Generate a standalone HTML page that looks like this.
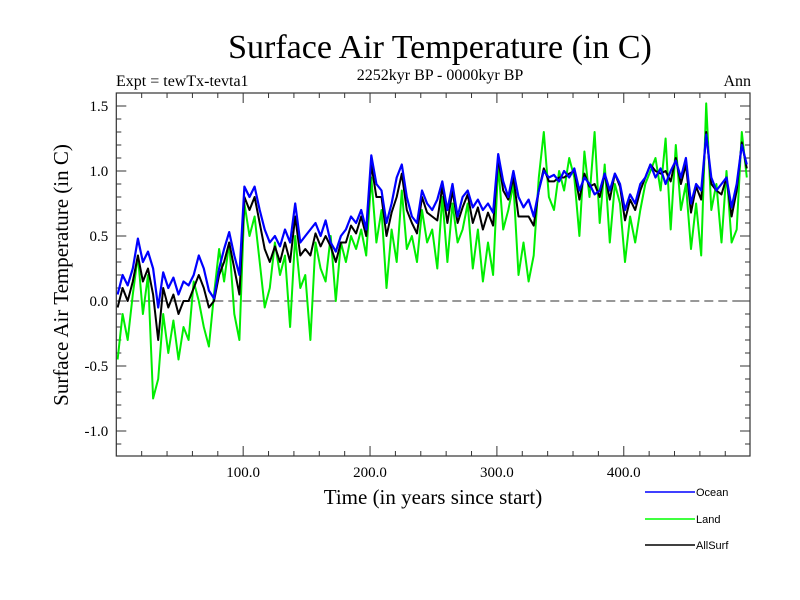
<!DOCTYPE html>
<html><head><meta charset="utf-8"><style>
body{margin:0;background:#fff}
svg{display:block}
.s{font-family:"Liberation Serif",serif}
.a{font-family:"Liberation Sans",sans-serif}
</style></head><body>
<svg id="chart" width="800" height="600" xmlns="http://www.w3.org/2000/svg">
<rect width="800" height="600" fill="#fff"/>
<text class="s" x="440" y="58" font-size="34" text-anchor="middle">Surface Air Temperature (in C)</text>
<text class="s" x="116" y="86" font-size="16">Expt = tewTx-tevta1</text>
<text class="s" x="440" y="80" font-size="16" text-anchor="middle">2252kyr BP - 0000kyr BP</text>
<text class="s" x="751" y="86" font-size="16" text-anchor="end">Ann</text>
<text class="s" x="0" y="0" font-size="21" text-anchor="middle" transform="translate(68,275) rotate(-90)">Surface Air Temperature (in C)</text>
<text class="s" x="433" y="504" font-size="21" text-anchor="middle">Time (in years since start)</text>
<g id="ticks"></g>
<g id="series"></g>
<rect x="116.3" y="93" width="633.7" height="363" fill="none" stroke="#333" stroke-width="1.2"/>
<g>
<line x1="645" y1="492" x2="695" y2="492" stroke="#0000ff" stroke-width="1.5"/>
<text class="a" x="696" y="496" font-size="11">Ocean</text>
<line x1="645" y1="519" x2="695" y2="519" stroke="#00ff00" stroke-width="1.5"/>
<text class="a" x="696" y="523" font-size="11">Land</text>
<line x1="645" y1="545" x2="695" y2="545" stroke="#000" stroke-width="1.5"/>
<text class="a" x="696" y="549" font-size="11">AllSurf</text>
</g>
</svg>
<script>
const yTicks=[1.5,1.0,0.5,0.0,-0.5,-1.0];
const yTickLabels=["1.5","1.0","0.5","0.0","-0.5","-1.0"];
const xTicks=[100,200,300,400];
const xTickLabels=["100.0","200.0","300.0","400.0"];
const ocean=[0.05,0.2,0.12,0.25,0.48,0.3,0.38,0.25,-0.05,0.22,0.1,0.18,0.05,0.15,0.12,0.2,0.35,0.25,0.08,0.02,0.25,0.4,0.53,0.35,0.2,0.88,0.8,0.88,0.7,0.55,0.45,0.5,0.42,0.55,0.45,0.75,0.45,0.5,0.55,0.6,0.5,0.62,0.45,0.38,0.5,0.55,0.65,0.6,0.7,0.55,1.12,0.9,0.85,0.6,0.75,0.95,1.05,0.8,0.65,0.6,0.85,0.75,0.7,0.78,0.92,0.7,0.9,0.65,0.8,0.85,0.72,0.78,0.7,0.75,0.68,1.13,0.92,0.8,1.0,0.8,0.72,0.78,0.65,0.85,1.0,0.95,0.97,0.92,1.0,0.95,1.02,0.85,0.95,0.9,0.82,0.85,0.98,0.85,0.98,0.9,0.7,0.82,0.75,0.9,0.95,1.05,0.95,1.02,0.9,1.0,1.08,0.95,1.1,0.75,0.9,0.85,1.28,0.95,0.85,0.9,0.95,0.72,0.9,1.2,1.05];
const land=[-0.45,-0.1,-0.3,0.05,0.35,-0.1,0.2,-0.75,-0.6,-0.1,-0.4,-0.15,-0.45,-0.2,-0.3,0.15,0.0,-0.2,-0.35,0.05,0.4,0.15,0.45,-0.1,-0.3,0.75,0.5,0.65,0.3,-0.05,0.1,0.45,0.2,0.35,-0.2,0.5,0.1,0.2,-0.3,0.45,0.25,0.15,0.5,0.0,0.45,0.3,0.5,0.4,0.55,0.35,0.95,0.45,0.7,0.1,0.55,0.3,0.85,0.4,0.5,0.3,0.7,0.45,0.55,0.25,0.8,0.3,0.75,0.45,0.55,0.75,0.25,0.55,0.15,0.45,0.2,1.05,0.55,0.7,0.9,0.2,0.45,0.15,0.35,0.95,1.3,0.8,0.7,1.0,0.85,1.1,0.95,0.5,1.15,0.8,1.3,0.6,1.05,0.45,0.9,0.75,0.3,0.65,0.45,0.7,0.9,1.0,1.1,0.85,1.25,0.55,1.2,0.7,0.9,0.4,0.75,0.35,1.52,0.7,0.9,0.45,1.0,0.45,0.55,1.3,0.95];
const allSurf=[-0.05,0.1,0.0,0.15,0.35,0.15,0.25,0.05,-0.3,0.1,-0.05,0.05,-0.1,0.0,0.0,0.1,0.2,0.1,-0.05,0.0,0.2,0.3,0.45,0.25,0.05,0.8,0.7,0.8,0.6,0.4,0.3,0.42,0.3,0.45,0.3,0.65,0.35,0.4,0.35,0.52,0.42,0.5,0.42,0.3,0.45,0.45,0.58,0.52,0.65,0.5,1.05,0.8,0.8,0.5,0.68,0.8,0.98,0.7,0.6,0.52,0.8,0.68,0.65,0.62,0.88,0.6,0.85,0.6,0.72,0.82,0.6,0.72,0.55,0.68,0.58,1.1,0.85,0.78,0.95,0.65,0.65,0.65,0.58,0.85,1.02,0.92,0.92,0.95,0.95,0.98,1.0,0.78,0.98,0.88,0.9,0.8,0.98,0.78,0.98,0.88,0.62,0.78,0.7,0.85,0.95,1.05,1.0,0.98,1.0,0.92,1.1,0.9,1.05,0.68,0.88,0.78,1.3,0.9,0.85,0.82,0.95,0.65,0.85,1.22,1.02];
const NS='http://www.w3.org/2000/svg';
const X0=116.3,X1=750,Y0=93,Y1=456;
function xs(yr){return X0+(yr/499.5)*(X1-X0);}
function ys(v){return 301-130*v;}
function yearOf(i){return 4*i+1;}
const tg=document.getElementById('ticks');
function mk(tag,attrs,parent){const e=document.createElementNS(NS,tag);for(const k in attrs)e.setAttribute(k,attrs[k]);parent.appendChild(e);return e;}
// minor y ticks every 0.1
for(let k=-12;k<=16;k++){const v=k/10,y=ys(v);if(y<Y0||y>Y1)continue;const major=(k%5===0);const L=major?10:5;
 const a=mk('line',{x1:X0,y1:y,x2:X0+L,y2:y,stroke:'#333','stroke-width':1},tg);
 
 
 const b=mk('line',{x1:X1-L,y1:y,x2:X1,y2:y,stroke:'#333','stroke-width':1},tg);
 
 }
yTicks.forEach((v,i)=>{const t=mk('text',{x:X0-8,y:ys(v)+5,'font-size':15,'text-anchor':'end',class:'s'},tg);t.textContent=yTickLabels[i];
 
 });
for(let yr=20;yr<500;yr+=20){const x=xs(yr);const major=(yr%100===0);const L=major?10:5;
 const a=mk('line',{x1:x,y1:Y1,x2:x,y2:Y1-L,stroke:'#333','stroke-width':1},tg);
 
 
 const b=mk('line',{x1:x,y1:Y0,x2:x,y2:Y0+L,stroke:'#333','stroke-width':1},tg);
 
 }
xTicks.forEach((v,i)=>{const t=mk('text',{x:xs(v),y:Y1+21,'font-size':15,'text-anchor':'middle',class:'s'},tg);t.textContent=xTickLabels[i];
 
 });
const z=mk('line',{x1:X0,y1:ys(0),x2:X1,y2:ys(0),stroke:'#777','stroke-width':1.5,'stroke-dasharray':'9,5'},tg);


const sg=document.getElementById('series');
function draw(arr,color,w,name){const pts=arr.map((v,i)=>xs(yearOf(i)).toFixed(1)+','+ys(v).toFixed(1)).join(' ');
 const p=mk('polyline',{points:pts,fill:'none',stroke:color,'stroke-width':w,'stroke-linejoin':'round'},sg);
 
 }
draw(land,'#00ee00',2,'land-line');
draw(allSurf,'#000',2,'allsurf-line');
draw(ocean,'#0000ff',2.2,'ocean-line');
</script>
</body></html>
